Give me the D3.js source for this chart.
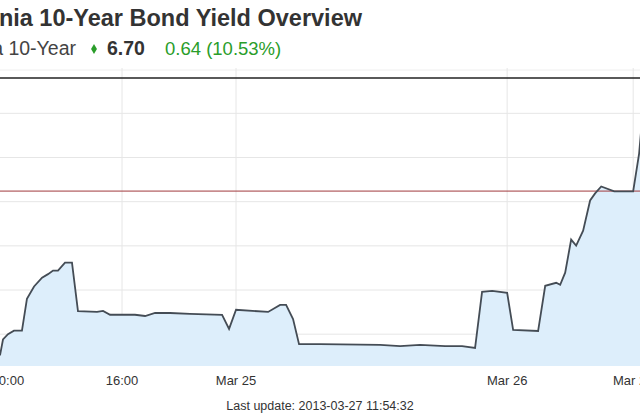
<!doctype html>
<html>
<head>
<script src="https://cdn.jsdelivr.net/npm/d3@7"></script>
<style>
  body { margin: 0; background: #fff; }
  text { font-family: "Liberation Sans", Arial, sans-serif; }
</style>
</head>
<body>
<div id="viz"></div>
<script>
// trading hours since session start, and yield values
var hours = [0, 0.21, 0.56, 0.98, 1.54, 1.89, 2.39, 2.95, 3.37, 3.72, 4.07, 4.56, 5.05, 5.47,
  6.81, 7.23, 7.72, 9.47, 10.18, 10.88, 11.93, 13.33, 15.58, 16.07, 16.56, 18.81, 19.65, 20.07,
  20.56, 20.98, 22.46, 26.67, 28.07, 29.47, 31.23, 32.42, 33.33, 33.82, 34.53, 35.58, 36.0,
  37.75, 38.25, 39.02, 39.3, 39.65, 40.07, 40.42, 40.91, 41.4, 41.75, 42.18, 43.09, 44.42, 44.84, 45.3];
var yields = [5.13, 5.22, 5.25, 5.27, 5.27, 5.45, 5.52, 5.57, 5.59, 5.61, 5.61, 5.655, 5.655, 5.38,
  5.376, 5.382, 5.36, 5.36, 5.353, 5.37, 5.37, 5.365, 5.359, 5.28, 5.388, 5.376, 5.416, 5.416,
  5.336, 5.194, 5.194, 5.189, 5.183, 5.189, 5.183, 5.183, 5.172, 5.49, 5.495, 5.484, 5.274,
  5.268, 5.524, 5.541, 5.53, 5.598, 5.785, 5.751, 5.836, 6.007, 6.047, 6.086, 6.058, 6.058, 6.274, 6.70];
var tickHours = [0.55, 8.56, 16.56, 35.58, 44.42];
var tickLabels = ["10:00", "16:00", "Mar 25", "Mar 26", "Mar 27"];
var gridValues = [5.25, 5.5, 5.75, 6.0, 6.25, 6.5];
var prevClose = 6.06;

var W = 640, H = 420;
var svg = d3.select("#viz").append("svg").attr("width", W).attr("height", H);

var x = d3.scaleLinear().domain([0, 44.9]).range([0, 640]);
var y = d3.scaleLinear().domain([5.07, 6.70]).range([366, 78]);

// header
svg.append("text").attr("x", 362).attr("y", 26).attr("text-anchor", "end")
  .attr("font-size", 23.5).attr("font-weight", "bold").attr("fill", "#333")
  .text("Slovenia 10-Year Bond Yield Overview");
svg.append("text").attr("x", 76).attr("y", 55).attr("text-anchor", "end")
  .attr("font-size", 19.5).attr("fill", "#444").text("Slovenia 10-Year");
svg.append("path").attr("d", d3.symbol(d3.symbolDiamond, 30)())
  .attr("transform", "translate(94,49)").attr("fill", "#2a9d2a");
svg.append("text").attr("x", 107).attr("y", 55).attr("font-size", 19.5)
  .attr("font-weight", "bold").attr("fill", "#333").text("6.70");
svg.append("text").attr("x", 165).attr("y", 55).attr("font-size", 18.5)
  .attr("fill", "#2a9d2a").text("0.64 (10.53%)");

// grid
svg.append("line").attr("x1", 0).attr("x2", W).attr("y1", 70).attr("y2", 70).attr("stroke", "#eee");
svg.selectAll(".hg").data(gridValues).enter().append("line")
  .attr("x1", 0).attr("x2", W).attr("y1", function (d) { return y(d); }).attr("y2", function (d) { return y(d); })
  .attr("stroke", "#e6e6e6");
svg.selectAll(".vg").data(tickHours.slice(1)).enter().append("line")
  .attr("x1", function (d) { return x(d); }).attr("x2", function (d) { return x(d); })
  .attr("y1", 68).attr("y2", 366).attr("stroke", "#e6e6e6");

var area = d3.area().x(function (d, i) { return x(hours[i]); })
  .y0(366).y1(function (d) { return y(d); });
var line = d3.line().x(function (d, i) { return x(hours[i]); }).y(function (d) { return y(d); });

svg.append("path").datum(yields).attr("d", area).attr("fill", "#ddeefb");
svg.append("line").attr("x1", 0).attr("x2", W).attr("y1", y(prevClose)).attr("y2", y(prevClose))
  .attr("stroke", "#a0393d").attr("stroke-width", 1);
svg.append("path").datum(yields).attr("d", line).attr("fill", "none")
  .attr("stroke", "#444c55").attr("stroke-width", 1.8);
svg.append("line").attr("x1", 0).attr("x2", W).attr("y1", 78).attr("y2", 78)
  .attr("stroke", "#222").attr("stroke-width", 1.5);

// x axis labels
svg.selectAll(".xl").data(tickHours).enter().append("text")
  .attr("x", function (d) { return x(d); }).attr("y", 385).attr("text-anchor", "middle")
  .attr("font-size", 13).attr("fill", "#333").text(function (d, i) { return tickLabels[i]; });

svg.append("text").attr("x", 320).attr("y", 410).attr("text-anchor", "middle")
  .attr("font-size", 12.5).attr("fill", "#333").text("Last update: 2013-03-27 11:54:32");
</script>
</body>
</html>
